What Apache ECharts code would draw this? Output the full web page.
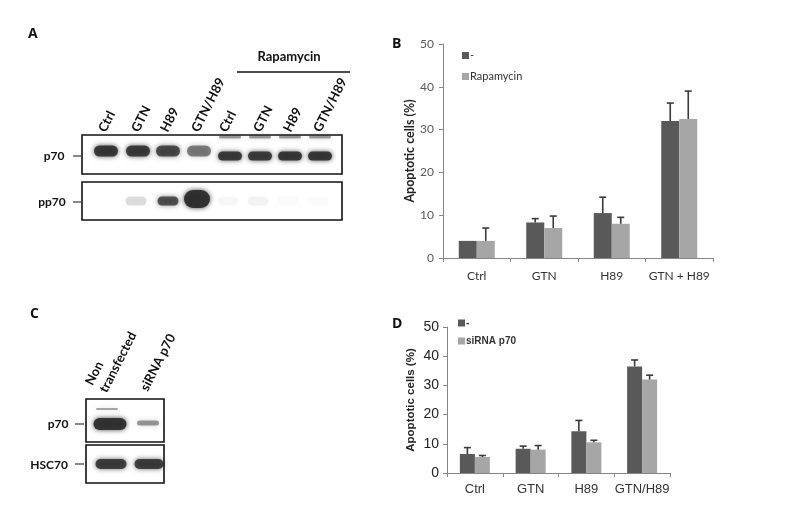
<!DOCTYPE html>
<html><head><meta charset="utf-8">
<script src="https://cdn.jsdelivr.net/npm/echarts@6/dist/echarts.min.js"></script>
<style>html,body{margin:0;padding:0;background:#fff}#c{width:800px;height:507px}</style>
</head><body><div id="c"></div>
<script>
// Panel B data
const categoriesB = ['Ctrl', 'GTN', 'H89', 'GTN + H89'];
const controlB = [4, 8.3, 10.5, 32];
const controlErrB = [0, 0.9, 3.7, 4.2];
const rapaB = [4, 7, 8, 32.5];
const rapaErrB = [3, 2.8, 1.5, 6.5];
// Panel D data
const categoriesD = ['Ctrl', 'GTN', 'H89', 'GTN/H89'];
const controlD = [6.5, 8.3, 14.3, 36.5];
const controlErrD = [2.2, 0.9, 3.7, 2.2];
const sirnaD = [5.5, 8, 10.5, 32];
const sirnaErrD = [0.5, 1.4, 0.7, 1.5];
// Blot A (band intensities 0..1)
const blotALanes = ['Ctrl', 'GTN', 'H89', 'GTN/H89', 'Ctrl', 'GTN', 'H89', 'GTN/H89'];
const p70A = [0.9, 0.88, 0.78, 0.55, 0.88, 0.88, 0.9, 0.9];
const pp70A = [0, 0.15, 0.75, 0.95, 0.04, 0.06, 0.02, 0.02];
// Blot C
const blotCLanes = ['Non\ntransfected', 'siRNA p70'];
const p70C = [0.92, 0.45];
const hsc70C = [0.85, 0.85];

const DARK = '#595959', LIGHT = '#a6a6a6';
const BLOT_FONT = 'Lato';

const chart = echarts.init(document.getElementById('c'));

function errRender(bw, side) {
  return function (params, api) {
    const i = api.value(0), v = api.value(1), e = api.value(2);
    if (!e) return null;
    const c = api.coord([i, v]);
    const t = api.coord([i, v + e]);
    const x = c[0] + side * bw / 2;
    return {
      type: 'group', children: [
        { type: 'line', shape: { x1: x, y1: c[1], x2: x, y2: t[1] }, style: { stroke: '#3a3a3a', lineWidth: 1.6 } },
        { type: 'line', shape: { x1: x - 3.5, y1: t[1], x2: x + 3.5, y2: t[1] }, style: { stroke: '#3a3a3a', lineWidth: 1.6 } }
      ]
    };
  };
}

// Blot graphics
const g = [];
function text(x, y, s, opt) {
  g.push(Object.assign({ type: 'text', x: x, y: y, style: Object.assign({ text: s, fill: '#111', font: 'bold 12px ' + BLOT_FONT }, opt && opt.style || {}) }, opt && opt.el || {}));
}
function band(cx, cy, w, h, a) {
  if (a <= 0) return;
  const col = 'rgba(45,45,45,' + a + ')';
  g.push({ type: 'rect', shape: { x: cx - w / 2 + 2, y: cy - h / 2 + 1, width: w - 4, height: h - 2, r: Math.max(1, (h - 2) / 2) },
    style: { fill: col, shadowBlur: 5, shadowColor: col } });
}
function box(x, y, w, h) {
  g.push({ type: 'rect', shape: { x: x, y: y, width: w, height: h }, style: { fill: 'none', stroke: '#111', lineWidth: 1.6 } });
}
function dash(x1, x2, y) {
  g.push({ type: 'line', shape: { x1: x1, y1: y, x2: x2, y2: y }, style: { stroke: '#111', lineWidth: 1 } });
}
const ANG = 63 * Math.PI / 180;

// Panel letters
text(28, 27, 'A', { style: { font: 'bold 14px "Open Sans"' } });
text(392, 37, 'B', { style: { font: 'bold 14px "Open Sans"' } });
text(30, 307, 'C', { style: { font: 'bold 14px "Open Sans"' } });
text(392, 317, 'D', { style: { font: 'bold 14px "Open Sans"' } });

// Blot A
const laneXA = [106, 138, 168, 199, 230, 260, 290, 320];
const labelXA = [102, 135, 164, 195, 223, 257, 287, 317];
text(289, 57, 'Rapamycin', { style: { align: 'center', verticalAlign: 'middle', font: 'bold 13px ' + BLOT_FONT } });
g.push({ type: 'line', shape: { x1: 237, y1: 72, x2: 350, y2: 72 }, style: { stroke: '#111', lineWidth: 1.6 } });
blotALanes.forEach((s, i) => {
  text(labelXA[i], 131, s, { el: { rotation: ANG }, style: { align: 'left', verticalAlign: 'middle', font: 'bold 13px ' + BLOT_FONT } });
});
// faint upper bands in rapamycin lanes
for (let i = 4; i < 8; i++) band(laneXA[i], 137, 26, 5, 0.45);
p70A.forEach((a, i) => band(laneXA[i], i < 4 ? 151 : 156, 28, i < 4 ? 13 : 11, a));
pp70A.forEach((a, i) => band(laneXA[i] - (i === 2 ? 0 : 2), i === 3 ? 199 : 201, i === 3 ? 30 : 25, i === 3 ? 20 : 11, a));
box(82, 135, 260, 39);
box(82, 182, 260, 38);
text(54, 156, 'p70', { style: { align: 'center', verticalAlign: 'middle' } });
dash(73, 81, 156);
text(52, 202, 'pp70', { style: { align: 'center', verticalAlign: 'middle' } });
dash(73, 81, 202);

// Blot C
const laneXC = [110, 148];
text(96, 388, blotCLanes[0], { el: { rotation: ANG }, style: { align: 'left', verticalAlign: 'middle', lineHeight: 16, font: 'bold 13px ' + BLOT_FONT } });
text(144, 390, blotCLanes[1], { el: { rotation: ANG }, style: { align: 'left', verticalAlign: 'middle', font: 'bold 13px ' + BLOT_FONT } });
band(107, 409, 26, 4, 0.4);
band(laneXC[0], 424, 37, 14, p70C[0]);
band(laneXC[1], 423, 26, 7, p70C[1]);
hsc70C.forEach((a, i) => band(i === 0 ? 111 : 149, 464, i === 0 ? 35 : 33, 12, a));
box(86, 399, 78, 43);
box(86, 445, 78, 38);
text(58, 424, 'p70', { style: { align: 'center', verticalAlign: 'middle' } });
dash(75, 84, 424);
text(49, 465, 'HSC70', { style: { align: 'center', verticalAlign: 'middle' } });
dash(75, 84, 464);

const bwB = 18, bwD = 15;
const axisCommon = {
  axisLine: { show: true, lineStyle: { color: '#868686' } },
  axisTick: { show: true, length: 4, lineStyle: { color: '#868686' } },
  splitLine: { show: false }
};

chart.setOption({
  backgroundColor: '#fff',
  animation: false,
  graphic: g,
  legend: [
    { data: ['-', 'Rapamycin'], orient: 'vertical', left: 457, top: 45, itemWidth: 7, itemHeight: 7, itemGap: 10,
      icon: 'rect', textStyle: { fontFamily: 'Lato', fontSize: 11, color: '#333', padding: [0, 0, 0, -4] } },
    { data: ['-', 'siRNA p70'], orient: 'vertical', left: 453, top: 313, itemWidth: 7, itemHeight: 7, itemGap: 8,
      icon: 'rect', textStyle: { fontFamily: 'Liberation Sans', fontWeight: 'bold', fontSize: 10, color: '#333', padding: [0, 0, 0, -4] } }
  ],
  grid: [
    { left: 443, top: 44, width: 270, height: 214 },
    { left: 447, top: 327, width: 223, height: 146 }
  ],
  xAxis: [
    Object.assign({ type: 'category', gridIndex: 0, data: categoriesB,
      axisLabel: { interval: 0, fontFamily: 'Lato', fontSize: 12, color: '#333', margin: 12 } }, axisCommon),
    Object.assign({ type: 'category', gridIndex: 1, data: categoriesD,
      axisLabel: { interval: 0, fontFamily: 'Liberation Sans', fontSize: 13, color: '#333', margin: 10 } }, axisCommon)
  ],
  yAxis: [
    Object.assign({ type: 'value', gridIndex: 0, min: 0, max: 50, interval: 10,
      name: 'Apoptotic cells (%)', nameLocation: 'middle', nameGap: 19,
      nameTextStyle: { fontFamily: 'Lato', fontWeight: 'bold', fontSize: 12.5, color: '#222' },
      axisLabel: { fontFamily: 'Lato', fontSize: 12, color: '#595959', margin: 9 } }, axisCommon),
    Object.assign({ type: 'value', gridIndex: 1, min: 0, max: 50, interval: 10,
      name: 'Apoptotic cells (%)', nameLocation: 'middle', nameGap: 30,
      nameTextStyle: { fontFamily: 'Liberation Sans', fontWeight: 'bold', fontSize: 11.5, color: '#222' },
      axisLabel: { fontFamily: 'Liberation Sans', fontSize: 14, color: '#222', margin: 8 } }, axisCommon)
  ],
  series: [
    { name: '-', type: 'bar', xAxisIndex: 0, yAxisIndex: 0, data: controlB, barWidth: bwB, barGap: '0%', itemStyle: { color: DARK } },
    { name: 'Rapamycin', type: 'bar', xAxisIndex: 0, yAxisIndex: 0, data: rapaB, barWidth: bwB, barGap: '0%', itemStyle: { color: LIGHT } },
    { name: 'errB1', type: 'custom', xAxisIndex: 0, yAxisIndex: 0, renderItem: errRender(bwB, -1), z: 3,
      data: controlB.map((v, i) => [i, v, controlErrB[i]]), encode: { x: 0, y: 1 } },
    { name: 'errB2', type: 'custom', xAxisIndex: 0, yAxisIndex: 0, renderItem: errRender(bwB, 1), z: 3,
      data: rapaB.map((v, i) => [i, v, rapaErrB[i]]), encode: { x: 0, y: 1 } },
    { name: '-', type: 'bar', xAxisIndex: 1, yAxisIndex: 1, data: controlD, barWidth: bwD, barGap: '0%', itemStyle: { color: DARK } },
    { name: 'siRNA p70', type: 'bar', xAxisIndex: 1, yAxisIndex: 1, data: sirnaD, barWidth: bwD, barGap: '0%', itemStyle: { color: LIGHT } },
    { name: 'errD1', type: 'custom', xAxisIndex: 1, yAxisIndex: 1, renderItem: errRender(bwD, -1), z: 3,
      data: controlD.map((v, i) => [i, v, controlErrD[i]]), encode: { x: 0, y: 1 } },
    { name: 'errD2', type: 'custom', xAxisIndex: 1, yAxisIndex: 1, renderItem: errRender(bwD, 1), z: 3,
      data: sirnaD.map((v, i) => [i, v, sirnaErrD[i]]), encode: { x: 0, y: 1 } }
  ]
});
</script></body></html>
